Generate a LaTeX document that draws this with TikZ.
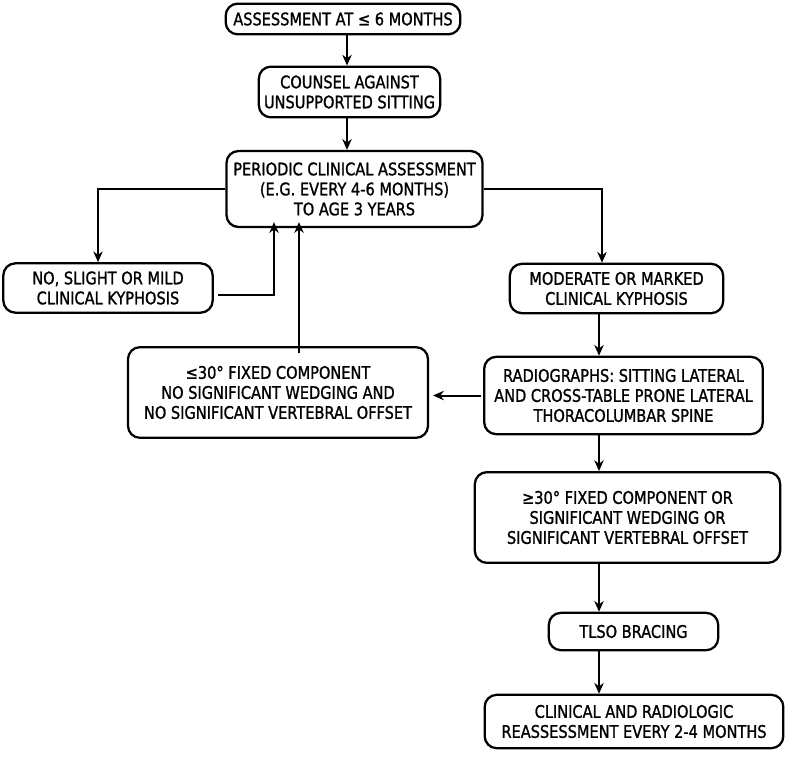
\documentclass[tikz,border=0pt]{standalone}
\usepackage{fontspec}
\setmainfont[FakeStretch=0.84,FakeBold=1.2]{DejaVu Sans}
\usetikzlibrary{arrows.meta}

\tikzset{every picture/.style={line width=1.5pt}}
\tikzset{
  flowbox/.style={draw, line width=1.7pt, rounded corners=9pt, align=center,
    inner sep=0pt, font=\fontsize{13}{15}\selectfont},
  flowarrow/.style={-{Stealth[length=8pt,width=7pt,inset=2.5pt]}, line width=1.5pt}
}

\begin{document}
\begin{tikzpicture}[x=0.75pt,y=0.75pt,yscale=-1,xscale=1]
\useasboundingbox (0,0) rectangle (787,756);

% column positions of the vertical connectors
\coordinate (ccol) at (347,0);
\coordinate (lcol) at (98,0);
\coordinate (rcol) at (602,0);
\coordinate (rcolb) at (599,0);
\coordinate (upa) at (274,0);
\coordinate (upb) at (299,0);

%Shape: Rounded Rect [assess]
\node[flowbox, minimum width=176pt, minimum height=23pt] (assess) at (343,19) {ASSESSMENT AT ≤ 6 MONTHS};
%Shape: Rounded Rect [counsel]
\node[flowbox, minimum width=136pt, minimum height=38pt] (counsel) at (349.5,92) {COUNSEL AGAINST\\UNSUPPORTED SITTING};
%Shape: Rounded Rect [periodic]
\node[flowbox, minimum width=192pt, minimum height=57pt] (periodic) at (354.5,189) {PERIODIC CLINICAL ASSESSMENT\\(E.G. EVERY 4-6 MONTHS)\\TO AGE 3 YEARS};
%Shape: Rounded Rect [mild]
\node[flowbox, minimum width=157pt, minimum height=37pt] (mild) at (108,288) {NO, SLIGHT OR MILD\\CLINICAL KYPHOSIS};
%Shape: Rounded Rect [moderate]
\node[flowbox, minimum width=160pt, minimum height=37pt] (moderate) at (616.5,288.5) {MODERATE OR MARKED\\CLINICAL KYPHOSIS};
%Shape: Rounded Rect [fixedlow]
\node[flowbox, minimum width=225pt, minimum height=68pt] (fixedlow) at (278,392.5) {≤30° FIXED COMPONENT\\NO SIGNIFICANT WEDGING AND\\NO SIGNIFICANT VERTEBRAL OFFSET};
%Shape: Rounded Rect [radio]
\node[flowbox, minimum width=209pt, minimum height=58pt] (radio) at (623.5,395.5) {RADIOGRAPHS: SITTING LATERAL\\AND CROSS-TABLE PRONE LATERAL\\THORACOLUMBAR SPINE};
%Shape: Rounded Rect [fixedhigh]
\node[flowbox, minimum width=229pt, minimum height=68pt] (fixedhigh) at (627.5,517.5) {≥30° FIXED COMPONENT OR\\SIGNIFICANT WEDGING OR\\SIGNIFICANT VERTEBRAL OFFSET};
%Shape: Rounded Rect [tlso]
\node[flowbox, minimum width=127pt, minimum height=28pt] (tlso) at (633.5,631.5) {TLSO BRACING};
%Shape: Rounded Rect [reassess]
\node[flowbox, minimum width=224pt, minimum height=40pt] (reassess) at (634,721.5) {CLINICAL AND RADIOLOGIC\\REASSESSMENT EVERY 2-4 MONTHS};

% Connectors
\draw[flowarrow] (assess.south -| ccol) -- (counsel.north -| ccol);
\draw[flowarrow] (counsel.south -| ccol) -- (periodic.north -| ccol);
\draw[flowarrow] (periodic.west) -| (mild.north -| lcol);
\draw[flowarrow] (periodic.east) -| (moderate.north -| rcol);
\draw[flowarrow] ([shift={(4,7)}]mild.east) -| ([yshift=-4.5pt]periodic.south -| upa);
\draw[flowarrow] ([yshift=5pt]fixedlow.north -| upb) -- ([yshift=-4.5pt]periodic.south -| upb);
\draw[flowarrow] (moderate.south -| rcolb) -- (radio.north -| rcolb);
\draw[flowarrow] ([xshift=-1.5pt]radio.west) -- ([xshift=3pt]fixedlow.east |- radio.west);
\draw[flowarrow] (radio.south -| rcolb) -- (fixedhigh.north -| rcolb);
\draw[flowarrow] (fixedhigh.south -| rcolb) -- (tlso.north -| rcolb);
\draw[flowarrow] (tlso.south -| rcolb) -- (reassess.north -| rcolb);

\end{tikzpicture}
\end{document}
